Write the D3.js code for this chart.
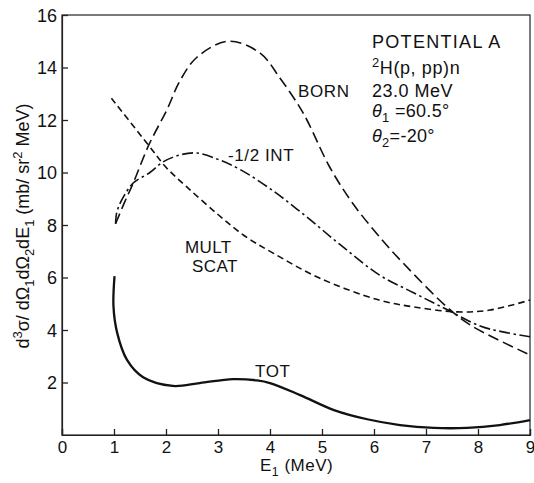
<!DOCTYPE html>
<html><head><meta charset="utf-8">
<script src="https://cdn.jsdelivr.net/npm/d3@7"></script>
<style>
body{margin:0;background:#fff;}
text{font-family:"Liberation Sans",Arial,sans-serif;fill:#111;}
</style></head>
<body>
<svg id="c" width="534" height="483"></svg>
<script>
// ---- data ----
const xTicks = [0,1,2,3,4,5,6,7,8,9];
const yTicks = [2,4,6,8,10,12,14,16];
const bornE = [1.03,1.2,1.37,1.67,2.02,2.27,2.6,3.2,3.81,4.19,4.52,4.71,5.15,5.6,6.17,6.56,7.4,7.85,9.0];
const bornV = [8.05,8.85,9.6,11.05,12.4,13.5,14.4,15.0,14.55,13.6,12.65,12.0,10.2,8.8,7.4,6.55,4.88,4.19,3.05];
const intE = [1.03,1.05,1.1,1.19,1.37,1.69,1.94,2.27,2.6,3.0,3.42,4.06,4.71,5.35,6.1,6.76,7.4,8.04,8.5,9.0];
const intV = [8.05,8.45,8.75,9.1,9.6,10.0,10.4,10.67,10.74,10.5,10.12,9.3,8.3,7.25,6.1,5.42,4.78,4.15,3.92,3.74];
const multE = [0.95,1.66,2.0,2.4,3.0,3.5,4.06,4.96,6.1,6.76,7.6,8.23,9.0];
const multV = [12.83,11.05,10.2,9.45,8.4,7.6,6.93,5.97,5.14,4.88,4.69,4.76,5.14];
const totE = [1.01,0.99,1.06,1.25,1.56,2.13,2.65,3.29,3.75,4.0,4.58,5.23,5.87,6.5,7.15,7.79,8.42,9.0];
const totV = [6.05,4.9,3.9,2.86,2.2,1.87,1.98,2.13,2.08,1.98,1.52,0.95,0.6,0.38,0.27,0.27,0.38,0.57];

// ---- layout ----
const svg = d3.select("#c");
const x = d3.scaleLinear().domain([0,9]).range([62,530]);
const y = d3.scaleLinear().domain([0,16]).range([435,15]);

// frame
svg.append("rect").attr("x",62).attr("y",15).attr("width",468).attr("height",420)
  .attr("fill","none").attr("stroke","#222").attr("stroke-width",1.2);

// axes
const xa = svg.append("g").attr("transform","translate(0,435)")
  .call(d3.axisBottom(x).tickValues(xTicks).tickSize(-6).tickPadding(6).tickFormat(d3.format("d")));
const ya = svg.append("g").attr("transform","translate(62,0)")
  .call(d3.axisLeft(y).tickValues(yTicks).tickSize(-6).tickPadding(5).tickFormat(d3.format("d")));
[xa,ya].forEach(a=>{
  a.select(".domain").attr("stroke","#222").attr("stroke-width",1.2);
  a.selectAll(".tick line").attr("stroke","#222").attr("stroke-width",1.3);
  a.selectAll(".tick text").attr("font-size",17).attr("fill","#111")
    .style("font-family","'Liberation Sans',Arial,sans-serif");
});
ya.selectAll(".tick text").attr("font-size",18).attr("dy","0.36em");

// curves
const line = d3.line().x(d=>x(d[0])).y(d=>y(d[1])).curve(d3.curveCatmullRom.alpha(0.5));
function draw(E,V,dash,w){
  svg.append("path").datum(E.map((e,i)=>[e,V[i]])).attr("d",line)
    .attr("fill","none").attr("stroke","#111").attr("stroke-width",w)
    .attr("stroke-dasharray",dash);
}
draw(bornE,bornV,"11,5",1.6);
draw(intE,intV,"11,3.5,2.5,3.5",1.6);
draw(multE,multV,"6.5,4",1.6);
draw(totE,totV,null,2.3);

// rich text helper
function rich(g,parts,size){
  const t = g.append("text").attr("font-size",size);
  let shift = 0;
  parts.forEach(p=>{
    const target = p.s==="sup"? -0.4*size : p.s==="sub"? 0.3*size : 0;
    const ts = t.append("tspan").text(p.t).attr("dy",target-shift);
    shift = target;
    if(p.s) ts.attr("font-size",size*0.72);
    if(p.i) ts.attr("font-style","italic");
  });
  return t;
}

// annotations
const ann = (tx,ty,parts,size,ls)=>{
  const g = svg.append("g").attr("transform",`translate(${tx},${ty})`);
  rich(g,parts,size).attr("letter-spacing",ls||0);
};
ann(372,48,[{t:"POTENTIAL A"}],18,1.3);
ann(372,74,[{t:"2",s:"sup"},{t:"H(p, pp)n"}],18,0.6);
ann(372,97,[{t:"23.0 MeV"}],18,0.5);
ann(372,117,[{t:"θ",i:1},{t:"1",s:"sub"},{t:" =60.5°"}],18,0.3);
ann(372,142,[{t:"θ",i:1},{t:"2",s:"sub"},{t:"=-20°"}],18,0.3);
ann(298,97,[{t:"BORN"}],17,0.6);
ann(228,161,[{t:"-1/2 INT"}],17,0.6);
ann(185,253,[{t:"MULT"}],17,0.4);
ann(192,272,[{t:"SCAT"}],17,0.4);
ann(255,377,[{t:"TOT"}],17,0.6);
ann(260,471,[{t:"E"},{t:"1",s:"sub"},{t:" (MeV)"}],17,0.5);

// y label
const yg = svg.append("g").attr("transform","translate(29,226) rotate(-90)");
rich(yg,[{t:"d"},{t:"3",s:"sup"},{t:"σ/ dΩ"},{t:"1",s:"sub"},{t:"dΩ"},{t:"2",s:"sub"},{t:"dE"},{t:"1",s:"sub"},
  {t:" (mb/ sr"},{t:"2",s:"sup"},{t:" MeV)"}],18).attr("text-anchor","middle");
</script>
</body></html>
